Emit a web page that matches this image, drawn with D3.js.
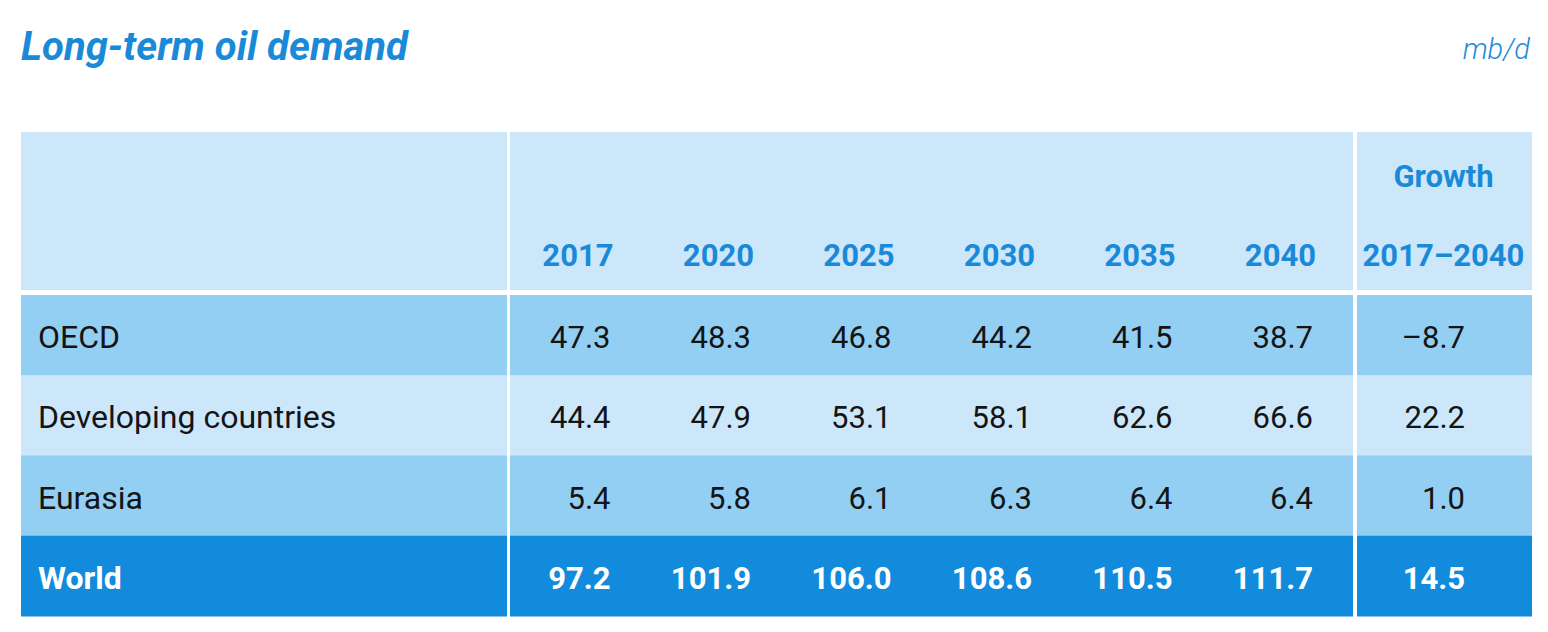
<!DOCTYPE html>
<html><head><meta charset="utf-8">
<script src="https://cdn.jsdelivr.net/npm/d3@7"></script>
<style>
html,body{margin:0;padding:0;background:#fff;}
svg{display:block;font-family:Roboto, "Noto Sans", sans-serif;}
</style></head>
<body><svg id="chart" width="1548" height="632"></svg>
<script>
const title = "Long-term oil demand";
const unit = "mb/d";
const years = ["2017","2020","2025","2030","2035","2040"];
const growthHeader = ["Growth","2017–2040"];
const regions = ["OECD","Developing countries","Eurasia","World"];
const oecd = [47.3,48.3,46.8,44.2,41.5,38.7];
const developing = [44.4,47.9,53.1,58.1,62.6,66.6];
const eurasia = [5.4,5.8,6.1,6.3,6.4,6.4];
const world = [97.2,101.9,106.0,108.6,110.5,111.7];
const growth = [-8.7,22.2,1.0,14.5];

(function(){
const values = [oecd, developing, eurasia, world];
const rowFill = ["#92cff3","#cce7fa","#92cff3","#138bdd"];
const headFill = "#cce7fa";
const blue = "#1a8ad8";

const svg = d3.select("#chart");
const tLeft = 21, tRight = 1532, tTop = 132, headBottom = 290, bodyTop = 295, tBottom = 616;
const labelEnd = 507, yearStart = 510, yearEnd = 1353, growthStart = 1357;

const yRow = d3.scaleBand().domain(regions).range([bodyTop, tBottom]).paddingInner(0);
const xYear = d3.scaleBand().domain(years).range([yearStart, yearEnd]);
const fmt = v => v < 0 ? "\u2013" + d3.format(".1f")(-v) : d3.format(".1f")(v);

svg.append("text").attr("x", tLeft).attr("y", 60)
  .attr("font-size", 40).attr("font-weight", 700).attr("font-style", "italic")
  .attr("fill", blue).text(title);
svg.append("text").attr("x", 1530).attr("y", 59).attr("text-anchor", "end")
  .attr("font-size", 29).attr("font-weight", 300).attr("font-style", "italic")
  .attr("fill", blue).text(unit);

const cols = [[tLeft, labelEnd],[yearStart, yearEnd],[growthStart, tRight]];
svg.append("g").selectAll("rect").data(cols).join("rect")
  .attr("x", d => d[0]).attr("y", tTop).attr("width", d => d[1]-d[0]).attr("height", headBottom - tTop)
  .attr("fill", headFill);

regions.forEach((r, i) => {
  svg.append("g").selectAll("rect").data(cols).join("rect")
    .attr("x", d => d[0]).attr("y", yRow(r)).attr("width", d => d[1]-d[0]).attr("height", yRow.bandwidth()+0.5)
    .attr("fill", rowFill[i]);
});

const yearBase = 266;
svg.append("g").selectAll("text").data(years).join("text")
  .attr("x", d => xYear(d) + xYear.bandwidth() - 37).attr("y", yearBase)
  .attr("text-anchor", "end").attr("font-size", 31).attr("font-weight", 700).attr("fill", blue)
  .text(d => d);
const gCenter = (growthStart + tRight) / 2;
svg.append("g").selectAll("text").data(growthHeader).join("text")
  .attr("x", gCenter - 1).attr("y", (d, i) => i === 0 ? 187 : yearBase)
  .attr("text-anchor", "middle").attr("font-size", 31).attr("font-weight", 700).attr("fill", blue)
  .text(d => d);

regions.forEach((r, i) => {
  const isWorld = r === "World";
  const col = isWorld ? "#ffffff" : "#141414";
  const wt = isWorld ? 700 : 400;
  const yb = yRow(r) + yRow.bandwidth()/2 + 13;
  svg.append("text").attr("x", 38).attr("y", yb).attr("font-size", 32).attr("font-weight", wt)
    .attr("fill", col).text(r);
  svg.append("g").selectAll("text").data(values[i]).join("text")
    .attr("x", (d, j) => xYear(years[j]) + xYear.bandwidth() - 40).attr("y", yb)
    .attr("text-anchor", "end").attr("font-size", 31).attr("font-weight", wt).attr("fill", col)
    .text(d => fmt(d));
  svg.append("text").attr("x", tRight - 67).attr("y", yb).attr("text-anchor", "end")
    .attr("font-size", 31).attr("font-weight", wt).attr("fill", col).text(fmt(growth[i]));
});
})();
</script></body></html>
